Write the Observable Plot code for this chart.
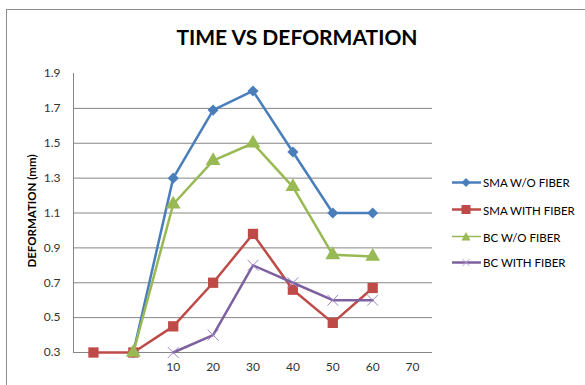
<!DOCTYPE html>
<html>
<head>
<meta charset="utf-8">
<script src="https://cdn.jsdelivr.net/npm/d3@7"></script>
<script src="https://cdn.jsdelivr.net/npm/@observablehq/plot@0.6"></script>
<style>
  html, body { margin: 0; padding: 0; background: #fff; }
  #wrap { position: relative; width: 585px; height: 385px; overflow: hidden; font-family: Lato, "Open Sans", sans-serif; }
  #border { position: absolute; left: 6px; top: 9px; width: 620px; height: 420px; border-left: 1.5px solid #8c8c8c; border-top: 1.5px solid #8c8c8c; }
  #title { position: absolute; left: 297px; top: 24px; transform: translateX(-50%); text-align: center; font-weight: bold; font-size: 21px; color: #000; white-space: nowrap; }
  #ylab { position: absolute; left: 31px; top: 211px; transform: translate(-50%, -50%) rotate(-90deg); font-weight: bold; font-size: 11.5px; white-space: nowrap; color: #000; }
  #chart { position: absolute; left: 0; top: 0; }
  #legend { position: absolute; left: 452px; top: 0; font-size: 11.5px; color: #000; }
  .item { position: absolute; left: 0; display: flex; align-items: center; white-space: nowrap; transform: translateY(-50%); }
  .item svg { margin-right: 2px; }
</style>
</head>
<body>
<div id="wrap">
  <div id="border"></div>
  <div id="chart"></div>
  <div id="title">TIME VS DEFORMATION</div>
  <div id="ylab">DEFORMATION (mm)</div>
  <div id="legend"></div>
</div>
<script>
// Categories (first two have blank labels)
const categories = ["", " ", "10", "20", "30", "40", "50", "60", "70"];
const yTicks = [0.3, 0.5, 0.7, 0.9, 1.1, 1.3, 1.5, 1.7, 1.9];
const seriesNames = ["SMA W/O FIBER", "SMA WITH FIBER", "BC W/O FIBER", "BC WITH FIBER"];
const smaWo   = [null, 0.3, 1.3, 1.69, 1.8, 1.45, 1.1, 1.1, null];
const smaWith = [0.3, 0.3, 0.45, 0.7, 0.98, 0.66, 0.47, 0.67, null];
const bcWo    = [null, 0.3, 1.15, 1.4, 1.5, 1.25, 0.86, 0.85, null];
const bcWith  = [null, null, 0.3, 0.4, 0.8, 0.7, 0.6, 0.6, null];
const colors  = ["#4a7ebb", "#be4b48", "#98b954", "#7d60a0"];
const symbols = ["diamond2", "square", "triangle", "times"];

const allValues = [smaWo, smaWith, bcWo, bcWith];
const series = seriesNames.map((name, i) => ({
  name, color: colors[i], symbol: symbols[i],
  data: categories.map((c, j) => ({cat: c, value: allValues[i][j]})).filter(d => d.value != null)
}));

const marks = [
  Plot.gridY(yTicks.filter(t => t < 1.9), {stroke: "#868686", strokeOpacity: 1, strokeWidth: 1}),
  Plot.frame({anchor: "left", stroke: "#868686", strokeWidth: 1}),
  Plot.axisY(yTicks, {tickSize: 0, tickPadding: 13, tickFormat: d3.format(".1f"), fontSize: 12, fill: "#333", label: null}),
  Plot.axisX({tickSize: 0, tickPadding: 10, fontSize: 12, fill: "#333", label: null})
];
for (const s of series) {
  marks.push(Plot.line(s.data, {x: "cat", y: "value", stroke: s.color, strokeWidth: 2.5}));
  if (s.symbol === "times") {
    marks.push(Plot.dot(s.data, {x: "cat", y: "value", symbol: "times", stroke: "#9b85c0", strokeWidth: 1, r: 5}));
  } else if (s.symbol === "square") {
    marks.push(Plot.dot(s.data, {x: "cat", y: "value", symbol: "square", fill: s.color, r: 5.8}));
  } else if (s.symbol === "triangle") {
    marks.push(Plot.dot(s.data, {x: "cat", y: "value", symbol: "triangle", fill: s.color, r: 5.5}));
  } else {
    marks.push(Plot.dot(s.data, {x: "cat", y: "value", symbol: "diamond2", fill: s.color, r: 5}));
  }
}

const chart = Plot.plot({
  width: 585, height: 385,
  marginLeft: 73, marginRight: 153, marginTop: 73, marginBottom: 33,
  style: {background: "transparent", fontFamily: "Lato, 'Open Sans', sans-serif"},
  x: {type: "band", domain: categories, padding: 0, round: false},
  y: {domain: [0.3, 1.9]},
  marks
});
document.getElementById("chart").appendChild(chart);

// Legend
const legendY = [182, 209.5, 236.5, 262];
const legend = document.getElementById("legend");
series.forEach((s, i) => {
  const div = document.createElement("div");
  div.className = "item";
  div.style.top = legendY[i] + "px";
  let marker;
  if (s.symbol === "diamond2") marker = `<path d="M14,-4.5L18.5,0L14,4.5L9.5,0Z" fill="${s.color}" transform="translate(0,6)"/>`;
  else if (s.symbol === "square") marker = `<rect x="9.5" y="1.5" width="9" height="9" fill="${s.color}"/>`;
  else if (s.symbol === "triangle") marker = `<path d="M14,1.5L18.5,10L9.5,10Z" fill="${s.color}"/>`;
  else marker = `<path d="M10.5,2.5L17.5,9.5M17.5,2.5L10.5,9.5" stroke="#b3a2d0" stroke-width="1"/>`;
  const sw = s.symbol === "triangle" ? 1.5 : 2.5;
  div.innerHTML = `<svg width="29" height="12"><line x1="0" x2="29" y1="6" y2="6" stroke="${s.color}" stroke-width="${sw}"/>${marker}</svg><span>${s.name}</span>`;
  legend.appendChild(div);
});
</script>
</body>
</html>
